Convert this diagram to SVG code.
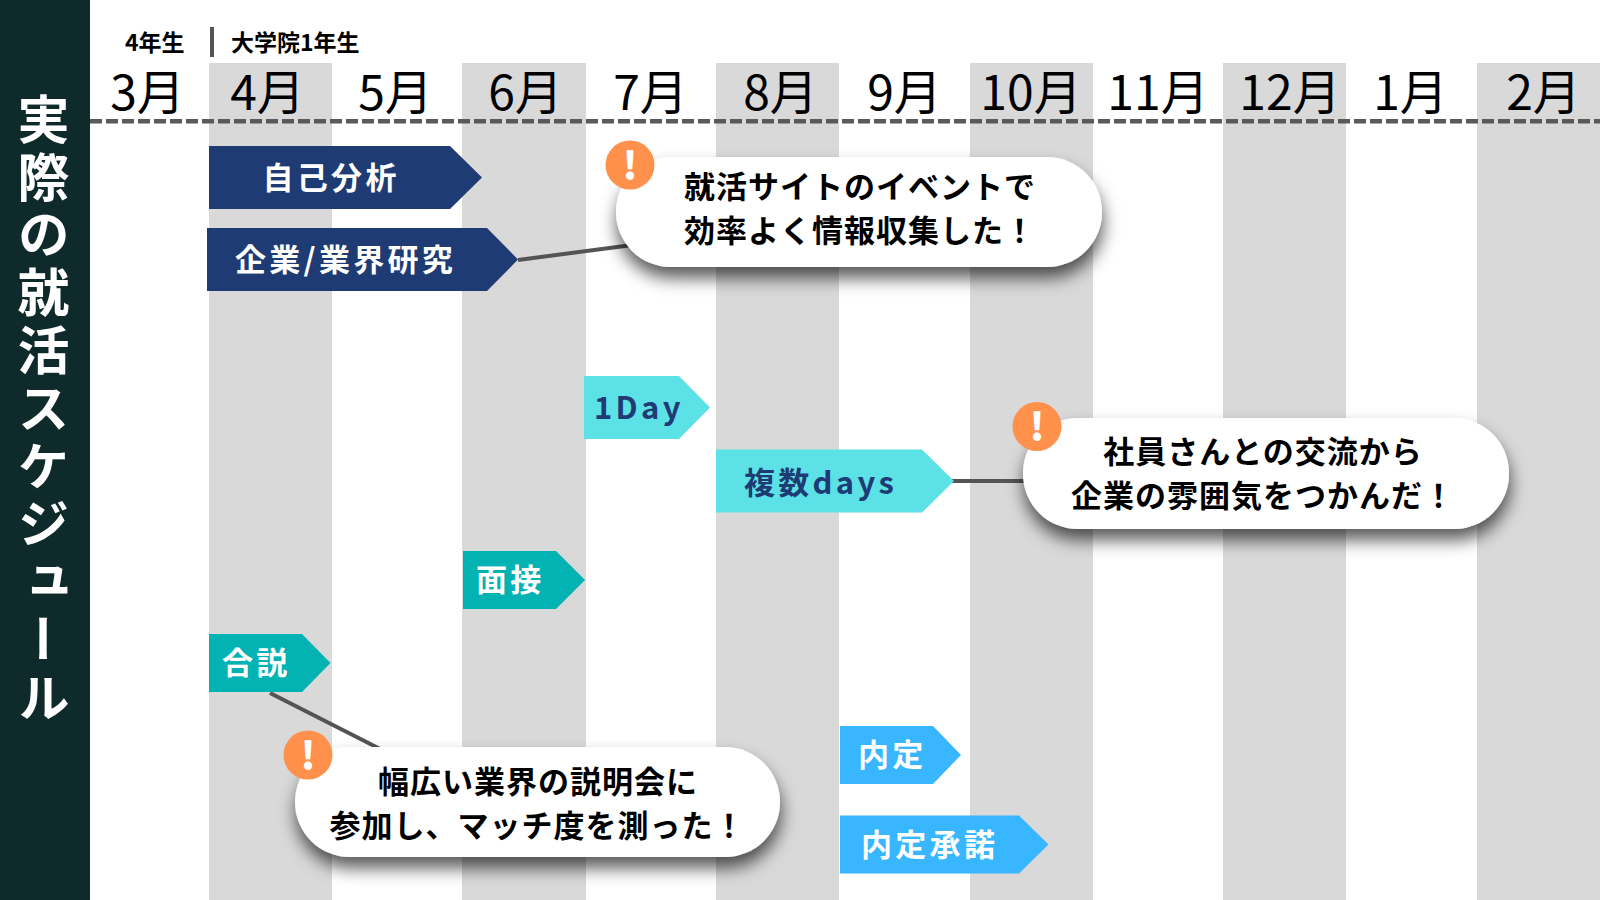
<svg xmlns="http://www.w3.org/2000/svg" width="1600" height="900" viewBox="0 0 1600 900">
<style>
text{font-family:"Noto Sans CJK JP","Noto Sans",sans-serif}
.stripe{fill:#d9d9d9}
.month{font-size:48px;fill:#000;text-anchor:middle;font-weight:400}
.yr{font-size:23px;font-weight:700;fill:#000}
.lab{font-size:31px;font-weight:700;fill:#fff;letter-spacing:3.300px}
.dk{fill:#1f3b73}
.call{fill:#fff;filter:url(#sh)}
.ct{font-size:31px;font-weight:700;fill:#000;text-anchor:middle;letter-spacing:1px}
.badge{fill:#ff914d}
.bang{font-size:38px;font-weight:900;fill:#fff;text-anchor:middle}
.conn{stroke:#545454;stroke-width:4;fill:none}
</style>
<defs><filter id="sh" x="-10%" y="-25%" width="120%" height="170%"><feDropShadow dx="1" dy="11" stdDeviation="8.500" flood-color="#000" flood-opacity=".65"/></filter></defs>
<rect width="1600" height="900" fill="#fff"/>
<g id="stripes">
<rect class="stripe" x="209" y="63" width="123" height="837"/>
<rect class="stripe" x="462" y="63" width="124" height="837"/>
<rect class="stripe" x="716" y="63" width="123" height="837"/>
<rect class="stripe" x="970" y="63" width="123" height="837"/>
<rect class="stripe" x="1223" y="63" width="123" height="837"/>
<rect class="stripe" x="1477" y="63" width="123" height="837"/>
</g>
<g id="sidebar">
<rect width="90" height="900" fill="#0e2a2b"/>
<text x="43.500" y="93" style="writing-mode:vertical-rl;font-size:52px;font-weight:700;letter-spacing:5.800px" fill="#fff">実際の就活スケジュール</text>
</g>
<g id="header">
<text class="yr" x="125" y="50.500">4年生</text>
<rect x="210" y="27" width="4" height="30" fill="#555"/>
<text class="yr" x="231" y="50.500">大学院1年生</text>
<text class="month" x="147.500" y="110">3月</text>
<text class="month" x="267.500" y="110">4月</text>
<text class="month" x="395.500" y="110">5月</text>
<text class="month" x="525.500" y="110">6月</text>
<text class="month" x="650.500" y="110">7月</text>
<text class="month" x="780.500" y="110">8月</text>
<text class="month" x="904.500" y="110">9月</text>
<text class="month" x="1031" y="110">10月</text>
<text class="month" x="1158" y="110">11月</text>
<text class="month" x="1290" y="110">12月</text>
<text class="month" x="1410.500" y="110">1月</text>
<text class="month" x="1543.500" y="110">2月</text>
<line x1="90" y1="121.300" x2="1600" y2="121.300" stroke="#5a5a5a" stroke-width="4.600" stroke-dasharray="12 4"/>
</g>
<g id="connectors">
<line class="conn" x1="518" y1="260" x2="640" y2="244"/>
<line class="conn" x1="952" y1="481" x2="1040" y2="481"/>
<line class="conn" x1="270" y1="693" x2="392" y2="755"/>
</g>
<g id="n1"><polygon class="dk" points="209,146 450,146 482,177.500 450,209 209,209"/><text class="lab" x="262.500" y="188.500">自己分析</text></g>
<g id="n2"><polygon class="dk" points="207,228 487,228 518,259.500 487,291 207,291"/><text class="lab" x="235" y="270.500">企業/業界研究</text></g>
<g id="n3"><polygon fill="#5ce1e6" points="584,376 679,376 710,407.500 679,439 584,439"/><text class="lab" x="594" y="419" style="fill:#1f3b73">1Day</text></g>
<g id="n4"><polygon fill="#5ce1e6" points="716,449.500 922,449.500 954,481 922,512.500 716,512.500"/><text class="lab" x="744" y="494" style="fill:#1f3b73">複数days</text></g>
<g id="n5"><polygon fill="#03b3b3" points="463,551 556,551 585,580 556,609 463,609"/><text class="lab" x="476" y="591">面接</text></g>
<g id="n6"><polygon fill="#03b3b3" points="209,634 302,634 330.500,663 302,692 209,692"/><text class="lab" x="222" y="674">合説</text></g>
<g id="n7"><polygon fill="#38b6ff" points="840,726 933,726 961,755 933,784 840,784"/><text class="lab" x="858" y="766">内定</text></g>
<g id="n8"><polygon fill="#38b6ff" points="840,815.500 1019,815.500 1048.500,844.500 1019,873.500 840,873.500"/><text class="lab" x="861" y="856">内定承諾</text></g>
<g id="c1"><rect class="call" x="616" y="157" width="486" height="110" rx="55"/><circle class="badge" cx="630" cy="165" r="24.500"/><text class="bang" x="630" y="179.500">!</text><text class="ct" x="860" y="198">就活サイトのイベントで</text><text class="ct" x="860" y="242">効率よく情報収集した！</text></g>
<g id="c2"><rect class="call" x="1023" y="418" width="486" height="111" rx="55"/><circle class="badge" cx="1037" cy="426.500" r="24.500"/><text class="bang" x="1037" y="441">!</text><text class="ct" x="1263" y="463">社員さんとの交流から</text><text class="ct" x="1263" y="507">企業の雰囲気をつかんだ！</text></g>
<g id="c3"><rect class="call" x="295" y="747" width="485" height="110" rx="55"/><circle class="badge" cx="308" cy="755" r="24.500"/><text class="bang" x="308" y="769.500">!</text><text class="ct" x="538" y="793">幅広い業界の説明会に</text><text class="ct" x="537.500" y="837">参加し、マッチ度を測った！</text></g>
</svg>
